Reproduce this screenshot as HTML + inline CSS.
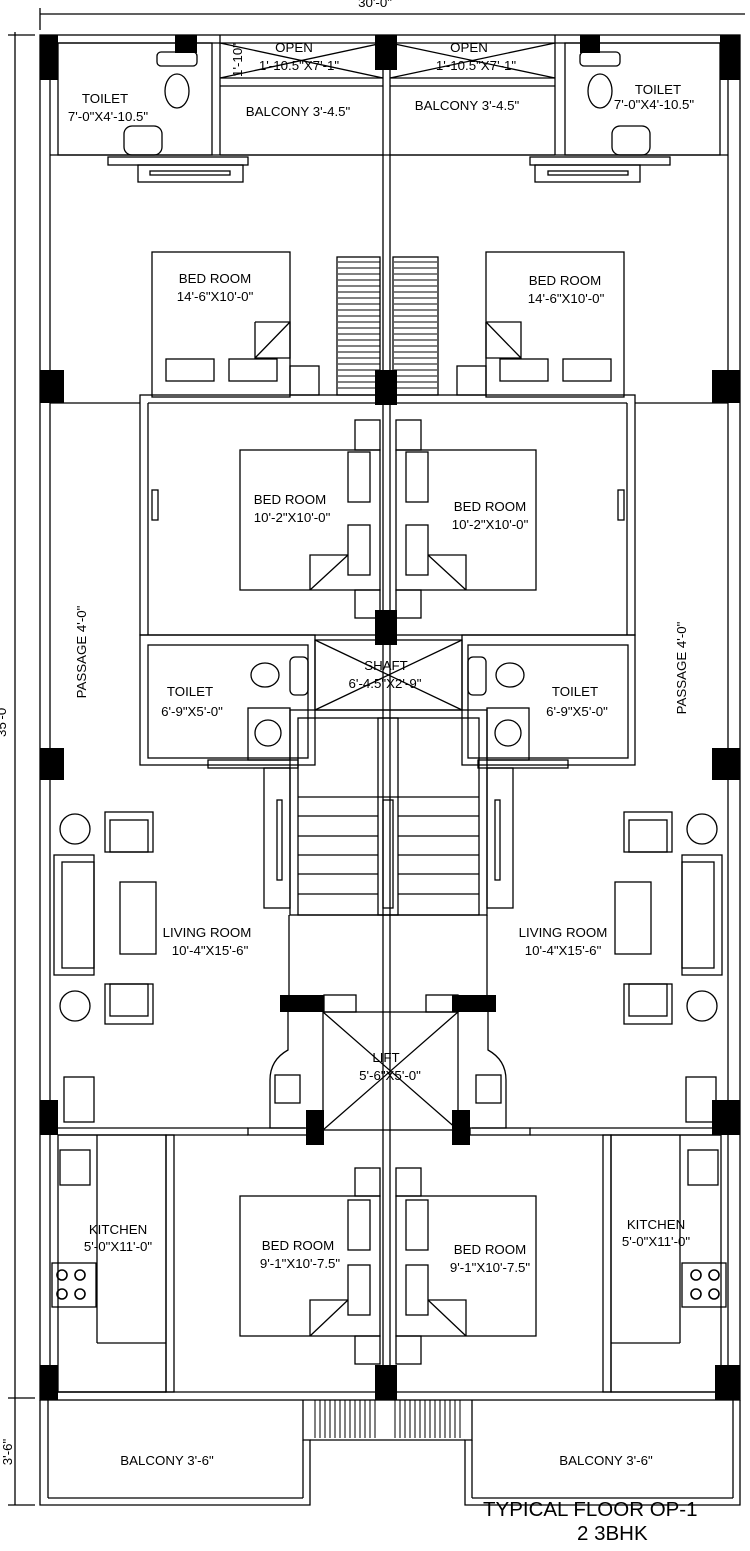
<!DOCTYPE html>
<html><head><meta charset="utf-8"><style>
html,body{margin:0;padding:0;background:#fff}
svg{display:block}
text{font-family:"Liberation Sans",sans-serif;font-size:13.3px;fill:#000}
text.big{font-size:20.5px}
</style></head><body>
<svg width="750" height="1551" viewBox="0 0 750 1551" xmlns="http://www.w3.org/2000/svg">
<g fill="none" stroke="#000" stroke-width="1.3">
<line x1="40" y1="14" x2="745" y2="14"/>
<line x1="40" y1="8" x2="40" y2="30"/>
<line x1="15" y1="32" x2="15" y2="1505"/>
<line x1="8" y1="35" x2="35" y2="35"/>
<line x1="8" y1="1398" x2="35" y2="1398"/>
<line x1="8" y1="1505" x2="35" y2="1505"/>
<rect x="40" y="35" width="700" height="1365"/>
<line x1="50" y1="43" x2="50" y2="1392"/>
<line x1="728" y1="43" x2="728" y2="1392"/>
<line x1="50" y1="43" x2="728" y2="43"/>
<line x1="50" y1="1392" x2="728" y2="1392"/>
<line x1="383" y1="43" x2="383" y2="1392"/>
<line x1="390" y1="43" x2="390" y2="1392"/>
<rect x="58" y="43" width="154" height="112"/>
<rect x="565" y="43" width="155" height="112"/>
<line x1="220" y1="35" x2="220" y2="155"/><line x1="555" y1="35" x2="555" y2="155"/>
<line x1="220" y1="78" x2="383" y2="78"/><line x1="220" y1="86" x2="383" y2="86"/>
<line x1="390" y1="78" x2="555" y2="78"/><line x1="390" y1="86" x2="555" y2="86"/>
<line x1="220" y1="155" x2="383" y2="155"/><line x1="390" y1="155" x2="555" y2="155"/>
<line x1="220" y1="43" x2="383" y2="78"/><line x1="220" y1="78" x2="383" y2="43"/>
<line x1="390" y1="43" x2="555" y2="78"/><line x1="390" y1="78" x2="555" y2="43"/>
<line x1="50" y1="155" x2="728" y2="155"/>
<rect x="108" y="157" width="140" height="8"/><rect x="138" y="165" width="105" height="17"/><rect x="150" y="171" width="80" height="4"/>
<rect x="530" y="157" width="140" height="8"/><rect x="535" y="165" width="105" height="17"/><rect x="548" y="171" width="80" height="4"/>
<rect x="157" y="52" width="40" height="14" rx="4"/><ellipse cx="177" cy="91" rx="12" ry="17"/>
<rect x="124" y="126" width="38" height="29" rx="8"/>
<rect x="580" y="52" width="40" height="14" rx="4"/><ellipse cx="600" cy="91" rx="12" ry="17"/>
<rect x="612" y="126" width="38" height="29" rx="8"/>
<rect x="152" y="252" width="138" height="145"/>
<rect x="486" y="252" width="138" height="145"/>
<polyline points="255,322 290,322 290,358 255,358 255,322"/><line x1="255" y1="358" x2="290" y2="322"/>
<polyline points="486,322 521,322 521,358 486,358 486,322"/><line x1="486" y1="322" x2="521" y2="358"/>
<rect x="166" y="359" width="48" height="22"/><rect x="229" y="359" width="48" height="22"/>
<rect x="500" y="359" width="48" height="22"/><rect x="563" y="359" width="48" height="22"/>
<rect x="290" y="366" width="29" height="29"/><rect x="457" y="366" width="29" height="29"/>
<rect x="337" y="257" width="43" height="138"/><rect x="393" y="257" width="45" height="138"/>
<line x1="50" y1="403" x2="140" y2="403"/><line x1="635" y1="403" x2="728" y2="403"/>
<rect x="140" y="395" width="495" height="240"/>
<line x1="148" y1="403" x2="627" y2="403"/>
<line x1="148" y1="403" x2="148" y2="635"/><line x1="627" y1="403" x2="627" y2="635"/>
<rect x="240" y="450" width="140" height="140"/><rect x="396" y="450" width="140" height="140"/>
<rect x="348" y="452" width="22" height="50"/><rect x="348" y="525" width="22" height="50"/>
<rect x="406" y="452" width="22" height="50"/><rect x="406" y="525" width="22" height="50"/>
<polyline points="310,590 310,555 348,555"/><line x1="310" y1="590" x2="348" y2="555"/>
<polyline points="466,590 466,555 428,555"/><line x1="466" y1="590" x2="428" y2="555"/>
<rect x="355" y="420" width="25" height="30"/><rect x="396" y="420" width="25" height="30"/>
<rect x="355" y="590" width="25" height="28"/><rect x="396" y="590" width="25" height="28"/>
<rect x="152" y="490" width="6" height="30"/><rect x="618" y="490" width="6" height="30"/>
<rect x="140" y="635" width="175" height="130"/><rect x="148" y="645" width="160" height="113"/>
<rect x="462" y="635" width="173" height="130"/><rect x="468" y="645" width="160" height="113"/>
<rect x="315" y="640" width="147" height="70"/>
<line x1="315" y1="640" x2="462" y2="710"/><line x1="315" y1="710" x2="462" y2="640"/>
<ellipse cx="265" cy="675" rx="14" ry="12"/><rect x="290" y="657" width="18" height="38" rx="5"/>
<ellipse cx="510" cy="675" rx="14" ry="12"/><rect x="468" y="657" width="18" height="38" rx="5"/>
<rect x="248" y="708" width="42" height="52"/><circle cx="268" cy="733" r="13"/>
<rect x="487" y="708" width="42" height="52"/><circle cx="508" cy="733" r="13"/>
<rect x="208" y="760" width="90" height="8"/><rect x="478" y="760" width="90" height="8"/>
<rect x="290" y="710" width="197" height="205"/><rect x="298" y="718" width="181" height="197"/>
<rect x="378" y="718" width="20" height="197"/>
<g>
<line x1="298" y1="797" x2="479" y2="797"/><line x1="298" y1="816" x2="378" y2="816"/><line x1="398" y1="816" x2="479" y2="816"/>
<line x1="298" y1="836" x2="378" y2="836"/><line x1="398" y1="836" x2="479" y2="836"/>
<line x1="298" y1="855" x2="378" y2="855"/><line x1="398" y1="855" x2="479" y2="855"/>
<line x1="298" y1="874" x2="378" y2="874"/><line x1="398" y1="874" x2="479" y2="874"/>
<line x1="298" y1="894" x2="378" y2="894"/><line x1="398" y1="894" x2="479" y2="894"/>
</g>
<rect x="383" y="800" width="10" height="108"/>
<rect x="264" y="768" width="26" height="140"/><rect x="487" y="768" width="26" height="140"/>
<rect x="277" y="800" width="5" height="80"/><rect x="495" y="800" width="5" height="80"/>
<line x1="289" y1="915" x2="289" y2="995"/><line x1="487" y1="915" x2="487" y2="995"/>
<circle cx="75" cy="829" r="15"/><circle cx="702" cy="829" r="15"/>
<circle cx="75" cy="1006" r="15"/><circle cx="702" cy="1006" r="15"/>
<rect x="105" y="812" width="48" height="40"/><rect x="110" y="820" width="38" height="32"/>
<rect x="105" y="984" width="48" height="40"/><rect x="110" y="984" width="38" height="32"/>
<rect x="624" y="812" width="48" height="40"/><rect x="629" y="820" width="38" height="32"/>
<rect x="624" y="984" width="48" height="40"/><rect x="629" y="984" width="38" height="32"/>
<rect x="54" y="855" width="40" height="120"/><rect x="62" y="862" width="32" height="106"/>
<rect x="682" y="855" width="40" height="120"/><rect x="682" y="862" width="32" height="106"/>
<rect x="120" y="882" width="36" height="72"/><rect x="615" y="882" width="36" height="72"/>
<rect x="323" y="1012" width="135" height="118"/>
<line x1="323" y1="1012" x2="458" y2="1130"/><line x1="323" y1="1130" x2="458" y2="1012"/>
<rect x="324" y="995" width="32" height="17"/><rect x="426" y="995" width="32" height="17"/>
<path d="M288 1012 V1050 Q270 1060 270 1080 V1128 H305"/><path d="M488 1012 V1050 Q506 1060 506 1080 V1128 H472"/>
<rect x="275" y="1075" width="25" height="28"/><rect x="476" y="1075" width="25" height="28"/>
<rect x="248" y="1128" width="60" height="7"/><rect x="470" y="1128" width="60" height="7"/>
<line x1="50" y1="1128" x2="248" y2="1128"/><line x1="530" y1="1128" x2="728" y2="1128"/>
<line x1="58" y1="1135" x2="248" y2="1135"/><line x1="530" y1="1135" x2="720" y2="1135"/>
<rect x="64" y="1077" width="30" height="45"/><rect x="686" y="1077" width="30" height="45"/>
<rect x="58" y="1135" width="108" height="257"/><rect x="611" y="1135" width="110" height="257"/>
<line x1="97" y1="1135" x2="97" y2="1343"/><line x1="97" y1="1343" x2="166" y2="1343"/>
<line x1="680" y1="1135" x2="680" y2="1343"/><line x1="611" y1="1343" x2="680" y2="1343"/>
<rect x="60" y="1150" width="30" height="35"/><rect x="688" y="1150" width="30" height="35"/>
<rect x="52" y="1263" width="44" height="44"/><rect x="682" y="1263" width="44" height="44"/>
<g stroke-width="1.6"><circle cx="62" cy="1275" r="5"/><circle cx="80" cy="1275" r="5"/><circle cx="62" cy="1294" r="5"/><circle cx="80" cy="1294" r="5"/>
<circle cx="696" cy="1275" r="5"/><circle cx="714" cy="1275" r="5"/><circle cx="696" cy="1294" r="5"/><circle cx="714" cy="1294" r="5"/></g>
<rect x="166" y="1135" width="8" height="257"/><rect x="603" y="1135" width="8" height="257"/>
<rect x="240" y="1196" width="140" height="140"/><rect x="396" y="1196" width="140" height="140"/>
<rect x="348" y="1200" width="22" height="50"/><rect x="348" y="1265" width="22" height="50"/>
<rect x="406" y="1200" width="22" height="50"/><rect x="406" y="1265" width="22" height="50"/>
<polyline points="310,1336 310,1300 348,1300"/><line x1="310" y1="1336" x2="348" y2="1300"/>
<polyline points="466,1336 466,1300 428,1300"/><line x1="466" y1="1336" x2="428" y2="1300"/>
<rect x="355" y="1168" width="25" height="28"/><rect x="396" y="1168" width="25" height="28"/>
<rect x="355" y="1336" width="25" height="28"/><rect x="396" y="1336" width="25" height="28"/>
<path d="M40 1400 V1505 H310 V1440 H303 V1400"/>
<path d="M740 1400 V1505 H465 V1440 H472 V1400"/>
<line x1="48" y1="1498" x2="303" y2="1498"/><line x1="472" y1="1498" x2="733" y2="1498"/>
<line x1="48" y1="1400" x2="48" y2="1498"/><line x1="733" y1="1400" x2="733" y2="1498"/>
<line x1="303" y1="1440" x2="303" y2="1498"/><line x1="472" y1="1440" x2="472" y2="1498"/>
<line x1="310" y1="1440" x2="465" y2="1440"/>
<line x1="58" y1="1392" x2="166" y2="1392"/>
</g>
<g stroke="#000" stroke-width="1">
<path d="M315 1400V1438M320 1400V1438M325 1400V1438M330 1400V1438M335 1400V1438M340 1400V1438M345 1400V1438M350 1400V1438M355 1400V1438M360 1400V1438M365 1400V1438M370 1400V1438M375 1400V1438M395 1400V1438M400 1400V1438M405 1400V1438M410 1400V1438M415 1400V1438M420 1400V1438M425 1400V1438M430 1400V1438M435 1400V1438M440 1400V1438M445 1400V1438M450 1400V1438M455 1400V1438M460 1400V1438"/>
<path d="M338 262H380M338 268H380M338 274H380M338 280H380M338 286H380M338 292H380M338 298H380M338 304H380M338 310H380M338 316H380M338 322H380M338 328H380M338 334H380M338 340H380M338 346H380M338 352H380M338 358H380M338 364H380M338 370H380M338 376H380M338 382H380M338 388H380"/>
<path d="M394 262H437M394 268H437M394 274H437M394 280H437M394 286H437M394 292H437M394 298H437M394 304H437M394 310H437M394 316H437M394 322H437M394 328H437M394 334H437M394 340H437M394 346H437M394 352H437M394 358H437M394 364H437M394 370H437M394 376H437M394 382H437M394 388H437"/>
</g>
<g fill="#000">
<rect x="40" y="35" width="18" height="45"/><rect x="175" y="35" width="22" height="18"/>
<rect x="375" y="35" width="22" height="35"/><rect x="580" y="35" width="20" height="18"/>
<rect x="720" y="35" width="20" height="45"/>
<rect x="40" y="370" width="24" height="33"/><rect x="375" y="370" width="22" height="35"/><rect x="712" y="370" width="28" height="33"/>
<rect x="375" y="610" width="22" height="35"/>
<rect x="40" y="748" width="24" height="32"/><rect x="712" y="748" width="28" height="32"/>
<rect x="280" y="995" width="44" height="17"/><rect x="452" y="995" width="44" height="17"/>
<rect x="306" y="1110" width="18" height="35"/><rect x="452" y="1110" width="18" height="35"/>
<rect x="40" y="1100" width="18" height="35"/><rect x="712" y="1100" width="28" height="35"/>
<rect x="40" y="1365" width="18" height="35"/><rect x="375" y="1365" width="22" height="35"/><rect x="715" y="1365" width="25" height="35"/>
</g>
<text x="375" y="7" text-anchor="middle">30'-0"</text>
<text transform="translate(6,720) rotate(-90)" text-anchor="middle">35'-0"</text>
<text transform="translate(12,1452) rotate(-90)" text-anchor="middle">3'-6"</text>
<text transform="translate(242,60) rotate(-90)" text-anchor="middle">1'-10"</text>
<g text-anchor="middle">
<text x="105" y="103">TOILET</text><text x="108" y="121">7'-0"X4'-10.5"</text>
<text x="294" y="52">OPEN</text><text x="299" y="70">1'-10.5"X7'-1"</text>
<text x="469" y="52">OPEN</text><text x="476" y="70">1'-10.5"X7'-1"</text>
<text x="298" y="116">BALCONY 3'-4.5"</text><text x="467" y="110">BALCONY 3'-4.5"</text>
<text x="658" y="94">TOILET</text><text x="654" y="109">7'-0"X4'-10.5"</text>
<text x="215" y="283">BED ROOM</text><text x="215" y="301">14'-6"X10'-0"</text>
<text x="565" y="285">BED ROOM</text><text x="566" y="303">14'-6"X10'-0"</text>
<text x="290" y="504">BED ROOM</text><text x="292" y="522">10'-2"X10'-0"</text>
<text x="490" y="511">BED ROOM</text><text x="490" y="529">10'-2"X10'-0"</text>
<text transform="translate(86,652) rotate(-90)">PASSAGE 4'-0"</text>
<text transform="translate(686,668) rotate(-90)">PASSAGE 4'-0"</text>
<text x="190" y="696">TOILET</text><text x="192" y="716">6'-9"X5'-0"</text>
<text x="575" y="696">TOILET</text><text x="577" y="716">6'-9"X5'-0"</text>
<text x="386" y="670">SHAFT</text><text x="385" y="688">6'-4.5"X2'-9"</text>
<text x="207" y="937">LIVING ROOM</text><text x="210" y="955">10'-4"X15'-6"</text>
<text x="563" y="937">LIVING ROOM</text><text x="563" y="955">10'-4"X15'-6"</text>
<text x="386" y="1062">LIFT</text><text x="390" y="1080">5'-6"X5'-0"</text>
<text x="118" y="1234">KITCHEN</text><text x="118" y="1251">5'-0"X11'-0"</text>
<text x="656" y="1229">KITCHEN</text><text x="656" y="1246">5'-0"X11'-0"</text>
<text x="298" y="1250">BED ROOM</text><text x="300" y="1268">9'-1"X10'-7.5"</text>
<text x="490" y="1254">BED ROOM</text><text x="490" y="1272">9'-1"X10'-7.5"</text>
<text x="167" y="1465">BALCONY 3'-6"</text><text x="606" y="1465">BALCONY 3'-6"</text>
</g>
<text class="big" x="483" y="1516">TYPICAL FLOOR OP-1</text>
<text class="big" x="577" y="1540">2  3BHK</text>
</svg>
</body></html>
